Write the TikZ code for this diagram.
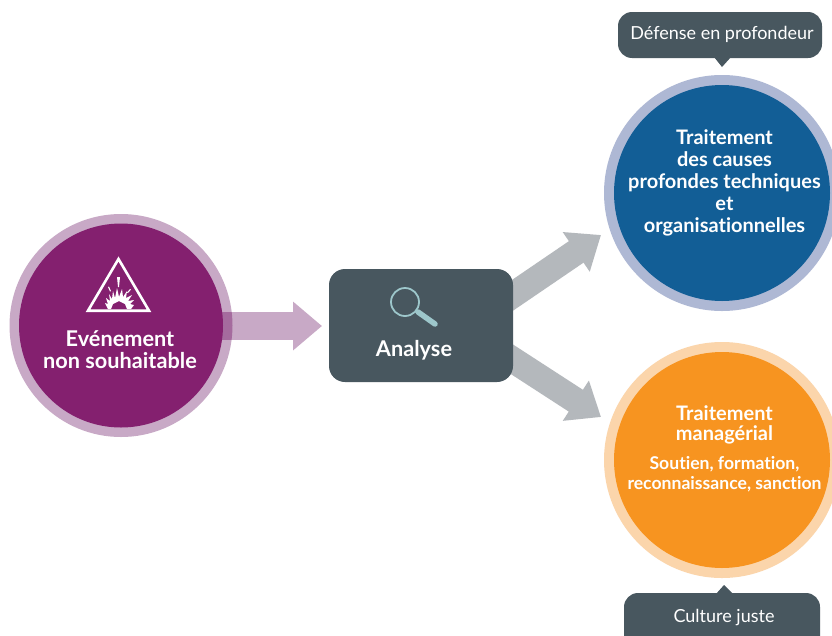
\documentclass[tikz,border=0pt]{standalone}
\usepackage{fontspec}
\setmainfont[Ligatures=NoCommon]{Lato}
\usetikzlibrary{arrows.meta}
\definecolor{purp}{HTML}{84206F}
\definecolor{purpring}{HTML}{C8A9C6}
\definecolor{purpover}{HTML}{A56B9E}
\definecolor{bluec}{HTML}{125E96}
\definecolor{bluering}{HTML}{AEB8D4}
\definecolor{orangec}{HTML}{F79420}
\definecolor{orangering}{HTML}{FBD5AB}
\definecolor{slate}{HTML}{48575F}
\definecolor{arrgray}{HTML}{B4B8BC}
\definecolor{lens}{HTML}{9DC7CB}
\tikzset{
  disc/.style={circle,inner sep=0pt,minimum size=#1},
  panel/.style={rounded corners=14pt,fill=slate,draw=none},
  title/.style={text=white,font=\fontsize{20}{22}\selectfont\bfseries,align=center,inner sep=0pt},
  bigtitle/.style={text=white,font=\fontsize{21.7}{22}\selectfont\bfseries,align=center,inner sep=0pt},
  subtitle/.style={text=white,font=\fontsize{17.6}{20}\selectfont\bfseries,align=center,inner sep=0pt},
  tag/.style={text=white,font=\fontsize{18}{20}\selectfont,inner sep=0pt},
  grayarrow/.style={draw=arrgray,line width=26pt,-{Triangle[length=30pt,width=46pt]}},
}
\begin{document}
\begin{tikzpicture}[x=1pt,y=-1pt]
\useasboundingbox (0,0) rectangle (832,635);
\clip (0,0) rectangle (832,635);
\fill[white] (0,0) rectangle (832,635);

% coordinates for connector ends
\coordinate (upfrom) at (493,308.6);
\coordinate (uptip) at (601,235);
\coordinate (downfrom) at (493,347);
\coordinate (downtip) at (601,417);
\coordinate (evtfrom) at (223,326);
\coordinate (anatip) at (322,326);

% event ring
\node[disc=223pt,fill=purpring] (evtring) at (121,325.5) {};
\draw[draw=purpring,line width=28pt,-{Triangle[length=29pt,width=47pt]}] (evtfrom) -- (anatip);
\begin{scope}
  \clip (121,325.5) circle[radius=111.5];
  \fill[purpover] (215,312) rectangle (240,340);
\end{scope}
\node[disc=204pt,fill=purp] (evt) at (121,325.5) {};
\node[bigtitle] (evttxt) at (120,350) {Evénement\\non souhaitable};

% warning icon
\draw[white,line width=2.6pt,line join=miter] (118.5,259) -- (149,310.7) -- (88,310.7) -- cycle;
\fill[white] (108,309) -- (105,303) -- (108,304) -- (106,298) -- (110,301) -- (109,294) -- (112,299)
  -- (113,291) -- (115,298) -- (117,288) -- (119,297) -- (122,289) -- (123,297) -- (127,291)
  -- (126,298) -- (132,295) -- (128,301) -- (134,300) -- (130,304) -- (134,305) -- (131,309)
  -- (127,309) -- (125,304) -- (119,301) -- (113,304) -- (111,309) -- cycle;
\fill[white] (117,277) -- (120,277) -- (119,287) -- (118,287) -- cycle;
\fill[white] (108,287) -- (109,286.5) -- (111,291) -- (110,291.5) -- cycle;
\fill[white] (130,289) -- (131,289.5) -- (128,293) -- (127,292.5) -- cycle;

% gray arrows
\draw[grayarrow] (upfrom) -- (uptip);
\draw[grayarrow] (downfrom) -- (downtip);

% analysis box
\node[panel,minimum width=184pt,minimum height=113pt,rounded corners=16pt] (ana) at (421,325.5) {};
\draw[lens,line width=1.8pt] (405,302) circle[radius=14];
\draw[lens,line width=5.5pt,line cap=round] (418,312) -- (435,324);
\node[bigtitle] (anatxt) at (414,350) {Analyse};

% blue circle
\node[disc=236pt,fill=bluering] (bluer) at (722,193) {};
\node[disc=216pt,fill=bluec] (blue) at (722,193) {};
\node[title] (bluetxt) at (724.5,183) {Traitement\\des causes\\profondes techniques\\et\\organisationnelles};

% orange circle
\node[disc=236pt,fill=orangering] (orr) at (722,460) {};
\node[disc=216pt,fill=orangec] (ora) at (722,460) {};
\node[title] (oratxt) at (724.5,425) {Traitement\\[-1.5pt]managérial};
\node[subtitle] (orasub) at (724.5,474) {Soutien, formation,\\reconnaissance, sanction};

% callouts
\node[panel,minimum width=204pt,minimum height=46pt] (top) at (720,35) {};
\fill[slate] (714,57) -- (722,67) -- (731,57) -- cycle;
\node[tag] (toptxt) at (722,34) {Défense en profondeur};
\node[panel,minimum width=196pt,minimum height=70pt] (bot) at (722,628) {};
\fill[slate] (716,594) -- (724,585) -- (733,594) -- cycle;
\node[tag] (bottxt) at (724,617) {Culture juste};
\end{tikzpicture}
\end{document}
